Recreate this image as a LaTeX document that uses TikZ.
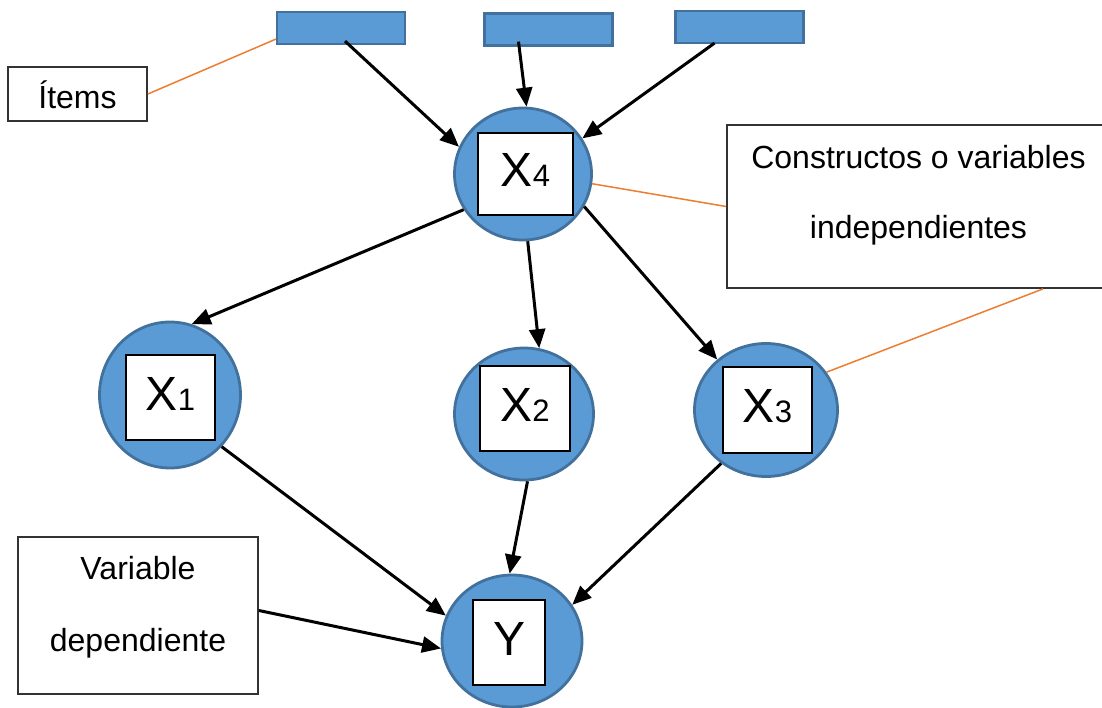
\documentclass[tikz,border=0pt]{standalone}
\usepackage{fontspec}
\setmainfont{Liberation Sans}
\usetikzlibrary{shapes.geometric,arrows.meta}
\definecolor{nodeblue}{HTML}{5B9BD5}
\definecolor{edgeblue}{HTML}{41719C}
\definecolor{leader}{HTML}{ED7D31}

% variable name with a small digit set on the baseline
\newcommand\varX[1]{X\fontsize{31}{32}\selectfont #1}

\tikzset{
  construct/.style={ellipse, fill=nodeblue, draw=edgeblue, line width=2.8pt, inner sep=0pt},
  varbox/.style={rectangle, fill=white, draw=black, line width=1.8pt, inner sep=0pt,
                 text depth=8pt, font=\fontsize{48}{50}\selectfont},
  itembox/.style={rectangle, fill=nodeblue, draw=edgeblue, line width=2.2pt,
                  minimum width=128pt, minimum height=32pt, inner sep=0pt},
  notebox/.style={rectangle, draw=black!80, line width=1.8pt, fill=white, inner sep=0pt},
  notetext/.style={anchor=base, inner sep=0pt, font=\fontsize{32}{38}\selectfont},
  link/.style={line width=3pt, -{Triangle[length=19pt,width=16pt]}},
  leaderline/.style={draw=leader, line width=1.5pt},
}

\begin{document}
\begin{tikzpicture}[x=1pt, y=-1pt]
\useasboundingbox (0,0) rectangle (1102,707);

% item rectangles
\node[itembox] (r1) at (341,28) {};
\node[itembox] (r2) at (548.5,29.5) {};
\node[itembox] (r3) at (739.5,27) {};

% constructs
\node[construct, minimum width=137pt, minimum height=132pt] (x4) at (523,174) {};
\node[construct, minimum width=141pt, minimum height=146pt] (x1) at (170,395) {};
\node[construct, minimum width=139pt, minimum height=132pt] (x2) at (524,414) {};
\node[construct, minimum width=143pt, minimum height=133pt] (x3) at (766,410) {};
\node[construct, minimum width=140pt, minimum height=132pt] (y)  at (512,641) {};

\node[varbox, minimum width=95pt, minimum height=82pt] (x4b) at (525.5,174) {\varX{4}};
\node[varbox, minimum width=89pt, minimum height=85pt] (x1b) at (170.5,397.5) {\varX{1}};
\node[varbox, minimum width=90pt, minimum height=85pt] (x2b) at (525,408.5) {\varX{2}};
\node[varbox, minimum width=89pt, minimum height=86pt] (x3b) at (767.5,410) {\varX{3}};
\node[varbox, minimum width=72pt, minimum height=85pt] (yb)  at (509,642.5) {Y};

% callout boxes
\node[notebox, minimum width=139pt, minimum height=54pt] (items) at (77.5,94) {};
\node[notetext] (itemstext) at (77.5,108) {Ítems};

\node[notebox, minimum width=383pt, minimum height=163pt] (cons) at (918.5,206.5) {};
\node[notetext] (cons1) at (918.5,168) {Constructos o variables};
\node[notetext] (cons2) at (918.5,238) {independientes};

\node[notebox, minimum width=240pt, minimum height=157pt] (dep) at (138,615.5) {};
\node[notetext] (dep1) at (138,579) {Variable};
\node[notetext] (dep2) at (138,651) {dependiente};

% leader lines
\draw[leaderline] (items.east) -- ([yshift=6pt]r1.south west);
\draw[leaderline] (x4.352) -- (cons.west);
\draw[leaderline] ([xshift=124.5pt]cons.south) -- (x3.32);

% item arrows
\draw[link] ([xshift=4pt,yshift=4pt]r1.south) -- (x4.157);
\draw[link] ([xshift=-30pt,yshift=5pt]r2.south) -- (x4.87);
\draw[link] ([xshift=-25pt,yshift=1pt]r3.south) -- (x4.31);

% construct arrows
\draw[link] (x4.211) -- (x1.73);
\draw[link] (x4.274.5) -- (x2.77);
\draw[link] (x4.332) -- (x3.134);
\draw[link] (x1.315) -- (y.159);
\draw[link] (x2.273) -- (y.92);
\draw[link] (x3.230) -- (y.31);
\draw[link] ([yshift=5pt]dep.east) -- (y.186);
\end{tikzpicture}
\end{document}
